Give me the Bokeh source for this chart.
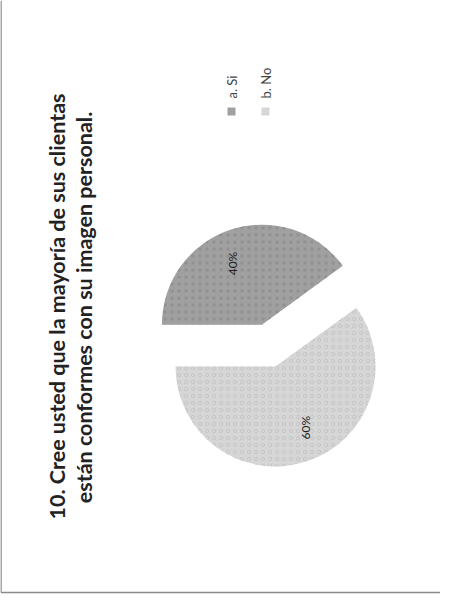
import math
from bokeh.plotting import figure
from bokeh.models import Range1d, ColumnDataSource
from bokeh.core.properties import value
from bokeh.embed import file_html
from bokeh.resources import INLINE

# ---- data ----
categories = ["a. Si", "b. No"]
values = [40, 60]
labels = ["40%", "60%"]
colors = ["#a0a0a0", "#d6d6d6"]
hatch_colors = ["#8a8a8a", "#c0c0c0"]
hatch_patterns = ["dot", "ring"]
title_lines = ["10. Cree usted que la mayoría de sus clientas",
               "están conformes con su imagen personal."]

# ---- layout (pixel-like data space, y up) ----
W, H = 440, 596
cx, cy, R = 275, 230, 100
start_deg = 36.0
explode = [44, 0]

p = figure(width=W, height=H, x_range=Range1d(0, W), y_range=Range1d(0, H),
           output_backend="svg", toolbar_location=None, min_border=0,
           outline_line_color=None, background_fill_color="white",
           border_fill_color="white")
p.axis.visible = False
p.grid.visible = False

total = sum(values)
starts, ends, xs, ys, lx, ly = [], [], [], [], [], []
acc = start_deg
for i, v in enumerate(values):
    a0 = acc
    a1 = acc + 360.0 * v / total
    acc = a1
    mid = math.radians((a0 + a1) / 2)
    ox = cx + explode[i] * math.cos(mid)
    oy = cy + explode[i] * math.sin(mid)
    starts.append(math.radians(a0))
    ends.append(math.radians(a1))
    xs.append(ox)
    ys.append(oy)
    lang = mid + math.radians(8)
    lx.append(ox + 0.68 * R * math.cos(lang))
    ly.append(oy + 0.68 * R * math.sin(lang))

src = ColumnDataSource(dict(x=xs, y=ys, s=starts, e=ends, c=colors,
                            hc=hatch_colors, hp=hatch_patterns,
                            lx=lx, ly=ly, lab=labels))
p.wedge(x="x", y="y", radius=R, start_angle="s", end_angle="e",
        fill_color="c", line_color=None, hatch_pattern="hp",
        hatch_color="hc", hatch_scale=7, hatch_alpha=0.7, source=src)
p.text(x="lx", y="ly", text="lab", angle=math.pi / 2, source=src,
       text_align="center", text_baseline="middle", text_font_size="12px",
       text_color="#222222", text_font=value("Lato"))

# title (rotated)
p.text(x=[56, 83], y=[290, 289], text=title_lines, angle=math.pi / 2,
       text_align="center", text_baseline="middle", text_font_size="21.5px",
       text_font_style="bold", text_color="#222222", text_font=value("Lato"))

# legend (rotated)
lgx = [231 + 34 * i for i in range(len(categories))]
p.scatter(x=lgx, y=[485] * len(categories), marker="square", size=8,
          fill_color=colors, line_color=None)
p.text(x=lgx, y=[498] * len(categories), text=categories, angle=math.pi / 2,
       text_align="left", text_baseline="middle", text_font_size="13px",
       text_color="#444444", text_font=value("Lato"))

# frame lines
p.segment(x0=[0.5, 0.5], y0=[H, 4], x1=[0.5, W], y1=[4, 4],
          line_color="#8a8a8a", line_width=1.5)

open("out.html", "w").write(file_html(p, INLINE))
